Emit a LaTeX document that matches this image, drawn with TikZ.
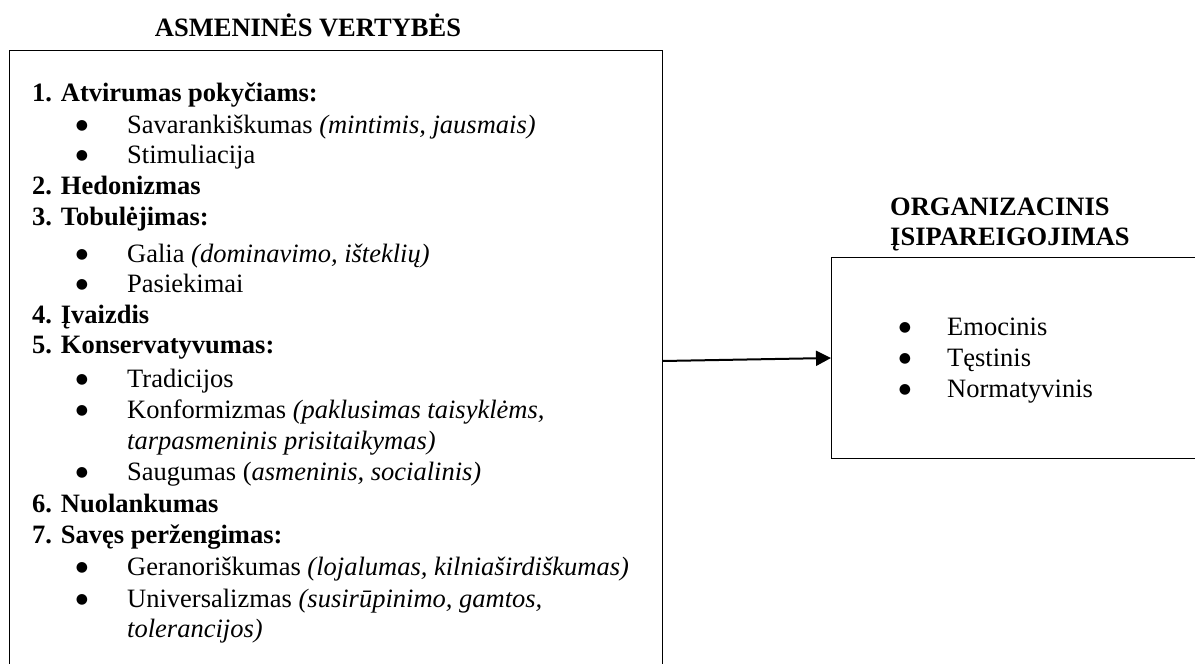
\documentclass[tikz,border=0pt]{standalone}
\usepackage{fontspec}
\setmainfont{Liberation Serif}
\newfontfamily\bulfont{DejaVu Sans}
\usetikzlibrary{arrows.meta}
\begin{document}
\begin{tikzpicture}[x=1pt,y=-1pt,
  txt/.style={anchor=base west,inner sep=0pt,font=\fontsize{26.5}{31}\selectfont},
  hd/.style={anchor=base west,inner sep=0pt,font=\fontsize{26.5}{31}\selectfont\bfseries},
  bul/.style={anchor=center,inner sep=0pt,font=\bulfont\fontsize{14}{14}\selectfont},
  boxs/.style={draw=black,line width=1pt,inner sep=0pt,fill=none},
  conn/.style={line width=2pt,-{Triangle[length=15pt,width=15pt]}}]
\useasboundingbox (0,0) rectangle (1195,664);
\clip (0,0) rectangle (1195,664);
% boxes
\node[boxs,anchor=north west,minimum width=653pt,minimum height=660pt] (lbox) at (8.5,50) {};
\node[boxs,anchor=north west,minimum width=400pt,minimum height=201pt] (rbox) at (831,257) {};
% titles
\node[anchor=base,inner sep=0pt,font=\fontsize{26.5}{31}\selectfont\bfseries] (t1) at (308,36) {ASMENINĖS VERTYBĖS};
\node[hd] (t2a) at (890,215) {ORGANIZACINIS};
\node[hd] (t2b) at (890,245) {ĮSIPAREIGOJIMAS};
% left list
\node[hd] (h1) at (32,101) {1. Atvirumas pokyčiams:};
\node[bul] (b1) at (82,126) {●};
\node[txt] (i1) at (127,133) {Savarankiškumas \textit{(mintimis, jausmais)}};
\node[bul] (b2) at (82,156) {●};
\node[txt] (i2) at (127,163) {Stimuliacija};
\node[hd] (h2) at (32,194) {2. Hedonizmas};
\node[hd] (h3) at (32,225) {3. Tobulėjimas:};
\node[bul] (b3) at (82,255) {●};
\node[txt] (i3) at (127,262) {Galia \textit{(dominavimo, išteklių)}};
\node[bul] (b4) at (82,285) {●};
\node[txt] (i4) at (127,292) {Pasiekimai};
\node[hd] (h4) at (32,323) {4. Įvaizdis};
\node[hd] (h5) at (32,353) {5. Konservatyvumas:};
\node[bul] (b5) at (82,380) {●};
\node[txt] (i5) at (127,387) {Tradicijos};
\node[bul] (b6) at (82,411) {●};
\node[txt] (i6) at (127,418) {Konformizmas \textit{(paklusimas taisyklėms,}};
\node[txt] (i6b) at (127,449) {\textit{tarpasmeninis prisitaikymas)}};
\node[bul] (b7) at (82,473) {●};
\node[txt] (i7) at (127,480) {Saugumas (\textit{asmeninis, socialinis)}};
\node[hd] (h6) at (32,512) {6. Nuolankumas};
\node[hd] (h7) at (32,543) {7. Savęs peržengimas:};
\node[bul] (b8) at (82,568) {●};
\node[txt] (i8) at (127,575) {Geranoriškumas \textit{(lojalumas, kilniaširdiškumas)}};
\node[bul] (b9) at (82,600) {●};
\node[txt] (i9) at (127,607) {Universalizmas \textit{(susirūpinimo, gamtos,}};
\node[txt] (i9b) at (127,637) {\textit{tolerancijos)}};
% right list
\node[bul] (r1b) at (905,328) {●};
\node[txt] (r1) at (947,335) {Emocinis};
\node[bul] (r2b) at (905,359) {●};
\node[txt] (r2) at (947,366) {Tęstinis};
\node[bul] (r3b) at (905,390) {●};
\node[txt] (r3) at (947,397) {Normatyvinis};
% connector
\coordinate (ya) at (0,361);
\coordinate (yb) at (0,358);
\draw[conn] (lbox.east |- ya) -- (rbox.west |- yb);
\end{tikzpicture}
\end{document}
